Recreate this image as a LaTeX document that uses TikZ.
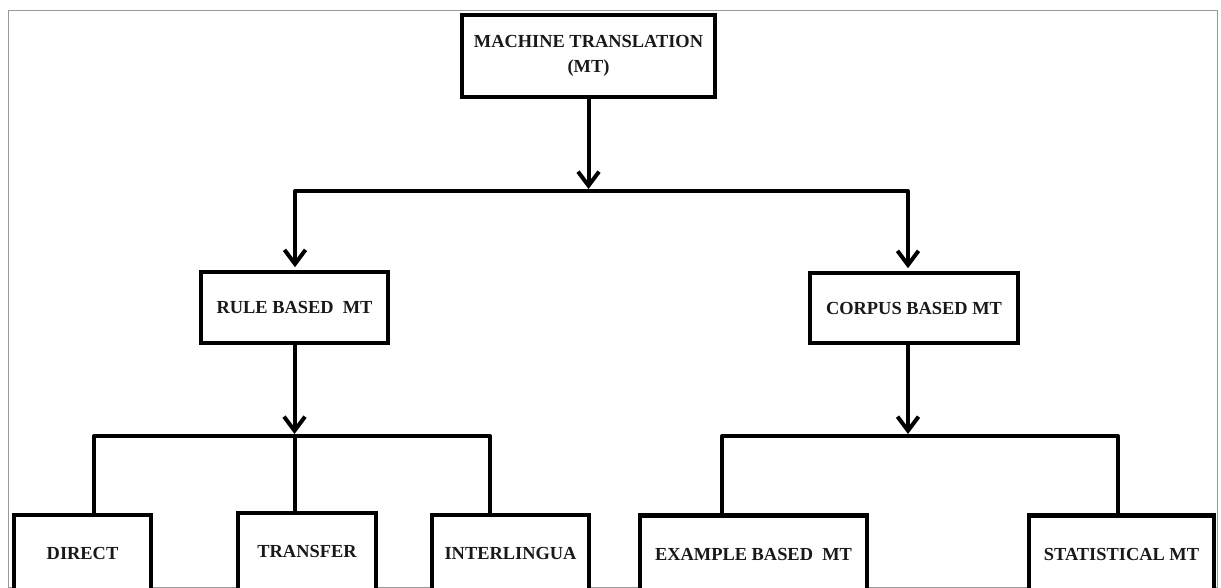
\documentclass[tikz,border=0pt]{standalone}
\usepackage{fontspec}
\setmainfont{Liberation Serif}
\usetikzlibrary{arrows.meta}
\begin{document}
\begin{tikzpicture}[x=1pt,y=-1pt,
  box/.style={draw=black, line width=4.8pt, fill=white, rectangle, inner sep=0pt,
    align=center, text=black!90, font=\fontsize{18.4}{25}\selectfont\bfseries},
  conn/.style={draw=black, line width=4pt, line join=round},
  >={Straight Barb[length=14pt,width=21pt]},
  arr/.style={conn, ->, shorten >=2.4pt}]
\clip (0,0) rectangle (1221,588);
\useasboundingbox (0,0) rectangle (1221,588);
\draw[black!40, line width=1pt] (8,10.5) rectangle (1217,587);

% nodes
\node[box, minimum width=253pt, minimum height=82pt] (mt) at (588.5,56) {MACHINE TRANSLATION\\(MT)};
\node[box, minimum width=187pt, minimum height=71pt] (rule) at (294.5,307.5) {RULE BASED\ \ MT};
\node[box, minimum width=208pt, minimum height=70pt] (corpus) at (914,308) {CORPUS BASED MT};
\node[box, minimum width=137pt, minimum height=77pt] (direct) at (82.5,553.5) {DIRECT};
\node[box, minimum width=138pt, minimum height=77pt] (transfer) at (307,551.5) {TRANSFER};
\node[box, minimum width=157pt, minimum height=77pt] (inter) at (510.5,553.5) {INTERLINGUA};
\node[box, minimum width=227pt, minimum height=77pt] (example) at (753.5,554) {EXAMPLE BASED\ \ MT};
\node[box, minimum width=185pt, minimum height=77pt] (stat) at (1121.5,554) {STATISTICAL MT};

% junction coordinates
\coordinate (b1L) at (295,191);
\coordinate (b1R) at (908,191);
\coordinate (b2L) at (94,436);
\coordinate (b2R) at (490,436);
\coordinate (b2M) at (294.5,436);
\coordinate (b3L) at (722,436);
\coordinate (b3R) at (1118,436);
\coordinate (b3M) at (908,436);

% level 1
\draw[arr, shorten >=2pt] (mt.south) -- (mt.south |- b1L);
\draw[conn, <->, shorten <=2.4pt, shorten >=2.4pt] (b1L |- rule.north) -- (b1L) -- (b1R) -- (b1R |- corpus.north);

% rule based branch
\draw[arr, shorten >=2pt] (rule.south) -- (b2M);
\draw[conn] (b2L |- direct.north) -- (b2L) -- (b2R) -- (b2R |- inter.north);
\draw[conn] (b2M) -- (b2M |- transfer.north);

% corpus based branch
\draw[arr, shorten >=2pt] (b3M |- corpus.south) -- (b3M);
\draw[conn] (b3L |- example.north) -- (b3L) -- (b3R) -- (b3R |- stat.north);
\end{tikzpicture}
\end{document}
